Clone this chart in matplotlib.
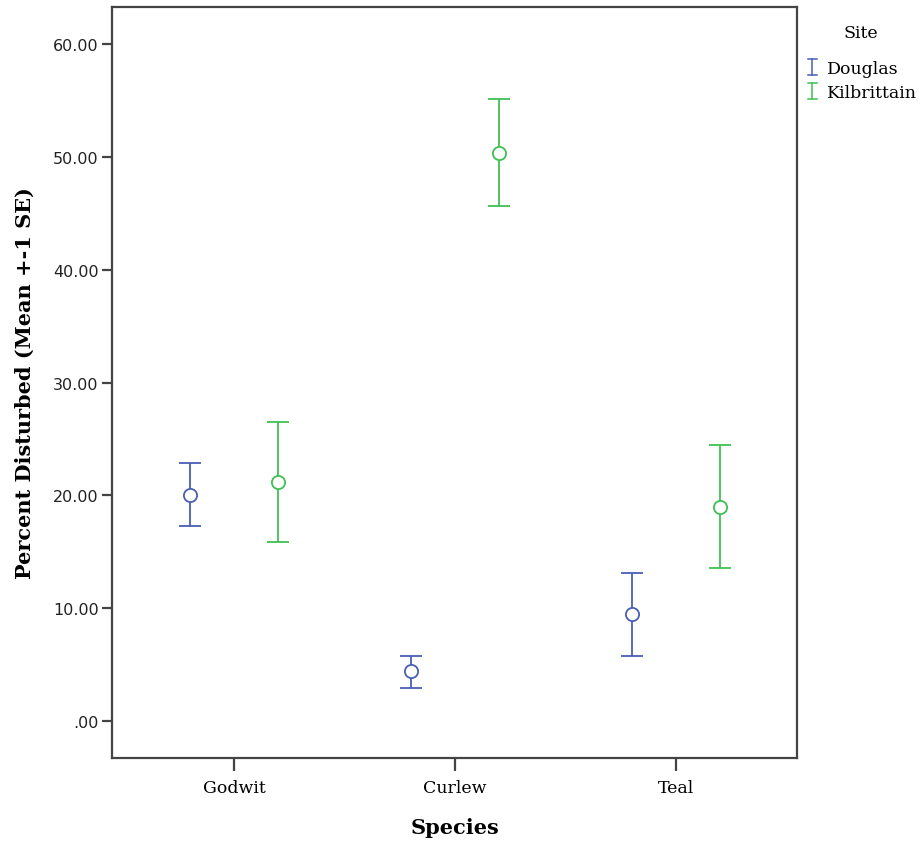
import matplotlib
matplotlib.use("Agg")
import matplotlib.pyplot as plt
import numpy as np
from matplotlib.legend_handler import HandlerBase
from matplotlib.lines import Line2D

species = ["Godwit", "Curlew", "Teal"]
sites = ["Douglas", "Kilbrittain"]
douglas_mean = [20.0, 4.4, 9.5]
douglas_upper = [22.9, 5.8, 13.1]
douglas_lower = [17.3, 2.9, 5.8]
kilb_mean = [21.2, 50.4, 19.0]
kilb_upper = [26.5, 55.1, 24.5]
kilb_lower = [15.9, 45.7, 13.6]
yticks = [0, 10, 20, 30, 40, 50, 60]
ytick_labels = [".00", "10.00", "20.00", "30.00", "40.00", "50.00", "60.00"]

colors = {"Douglas": "#4a5fb4", "Kilbrittain": "#3fc052"}

fig = plt.figure(figsize=(9.24, 8.45), dpi=100)
ax = fig.add_axes([112/924, 1-759/845, (797-112)/924, (759-8)/845])

x = np.arange(len(species))
offset = 0.2
series = [
    ("Douglas", douglas_mean, douglas_upper, douglas_lower, -offset),
    ("Kilbrittain", kilb_mean, kilb_upper, kilb_lower, offset),
]
for name, m, up, lo, off in series:
    m = np.array(m); up = np.array(up); lo = np.array(lo)
    ax.errorbar(x + off, m, yerr=[m - lo, up - m], fmt='o', color=colors[name],
                mfc='white', mec=colors[name], ms=9.5, mew=1.3,
                elinewidth=1.3, capsize=7.9, capthick=1.3, zorder=3)

ax.set_xlim(-0.552, 2.548)
ax.set_ylim(-3.28, 63.3)
ax.set_xticks(x)
ax.set_xticklabels(species, family="DejaVu Serif", fontsize=12.5)
ax.set_yticks(yticks)
ax.set_yticklabels(ytick_labels, family="DejaVu Sans", fontsize=11.5, color="#222222")
for s in ax.spines.values():
    s.set_color("#444444")
    s.set_linewidth(1.6)
ax.tick_params(axis='y', length=7.5, width=1.6, color="#444444", pad=2)
ax.tick_params(axis='x', length=9, width=1.6, color="#444444", pad=6)

ax.set_ylabel("Percent Disturbed (Mean +-1 SE)", family="DejaVu Serif",
              fontweight="bold", fontsize=15, labelpad=13)
ax.set_xlabel("Species", family="DejaVu Serif", fontweight="bold", fontsize=15, labelpad=15)


class IHandler(HandlerBase):
    def create_artists(self, legend, orig_handle, xdescent, ydescent, width, height, fontsize, trans):
        c = orig_handle.get_color()
        cx = -xdescent + width / 2
        y0 = -ydescent - 1.5
        y1 = -ydescent + height + 1.0
        hw = 3.0
        arts = [
            Line2D([cx, cx], [y0, y1], color=c, lw=1.1, transform=trans),
            Line2D([cx - hw, cx + hw], [y0, y0], color=c, lw=1.1, transform=trans),
            Line2D([cx - hw, cx + hw], [y1, y1], color=c, lw=1.1, transform=trans),
        ]
        return arts


fig.text(861/924, 1-33/845, "Site", ha="center", va="center",
         family="DejaVu Serif", fontsize=12.5)
handles = [Line2D([], [], color=colors[s]) for s in sites]
leg = fig.legend(handles, sites, loc="upper left", bbox_to_anchor=(808/924, 1-61/845),
                 frameon=False, handler_map={Line2D: IHandler()},
                 handlelength=0.5, handletextpad=0.6, labelspacing=0.38,
                 prop={"family": "DejaVu Serif", "size": 12.5}, borderaxespad=0,
                 borderpad=0)

fig.savefig("out.png", dpi=100)
